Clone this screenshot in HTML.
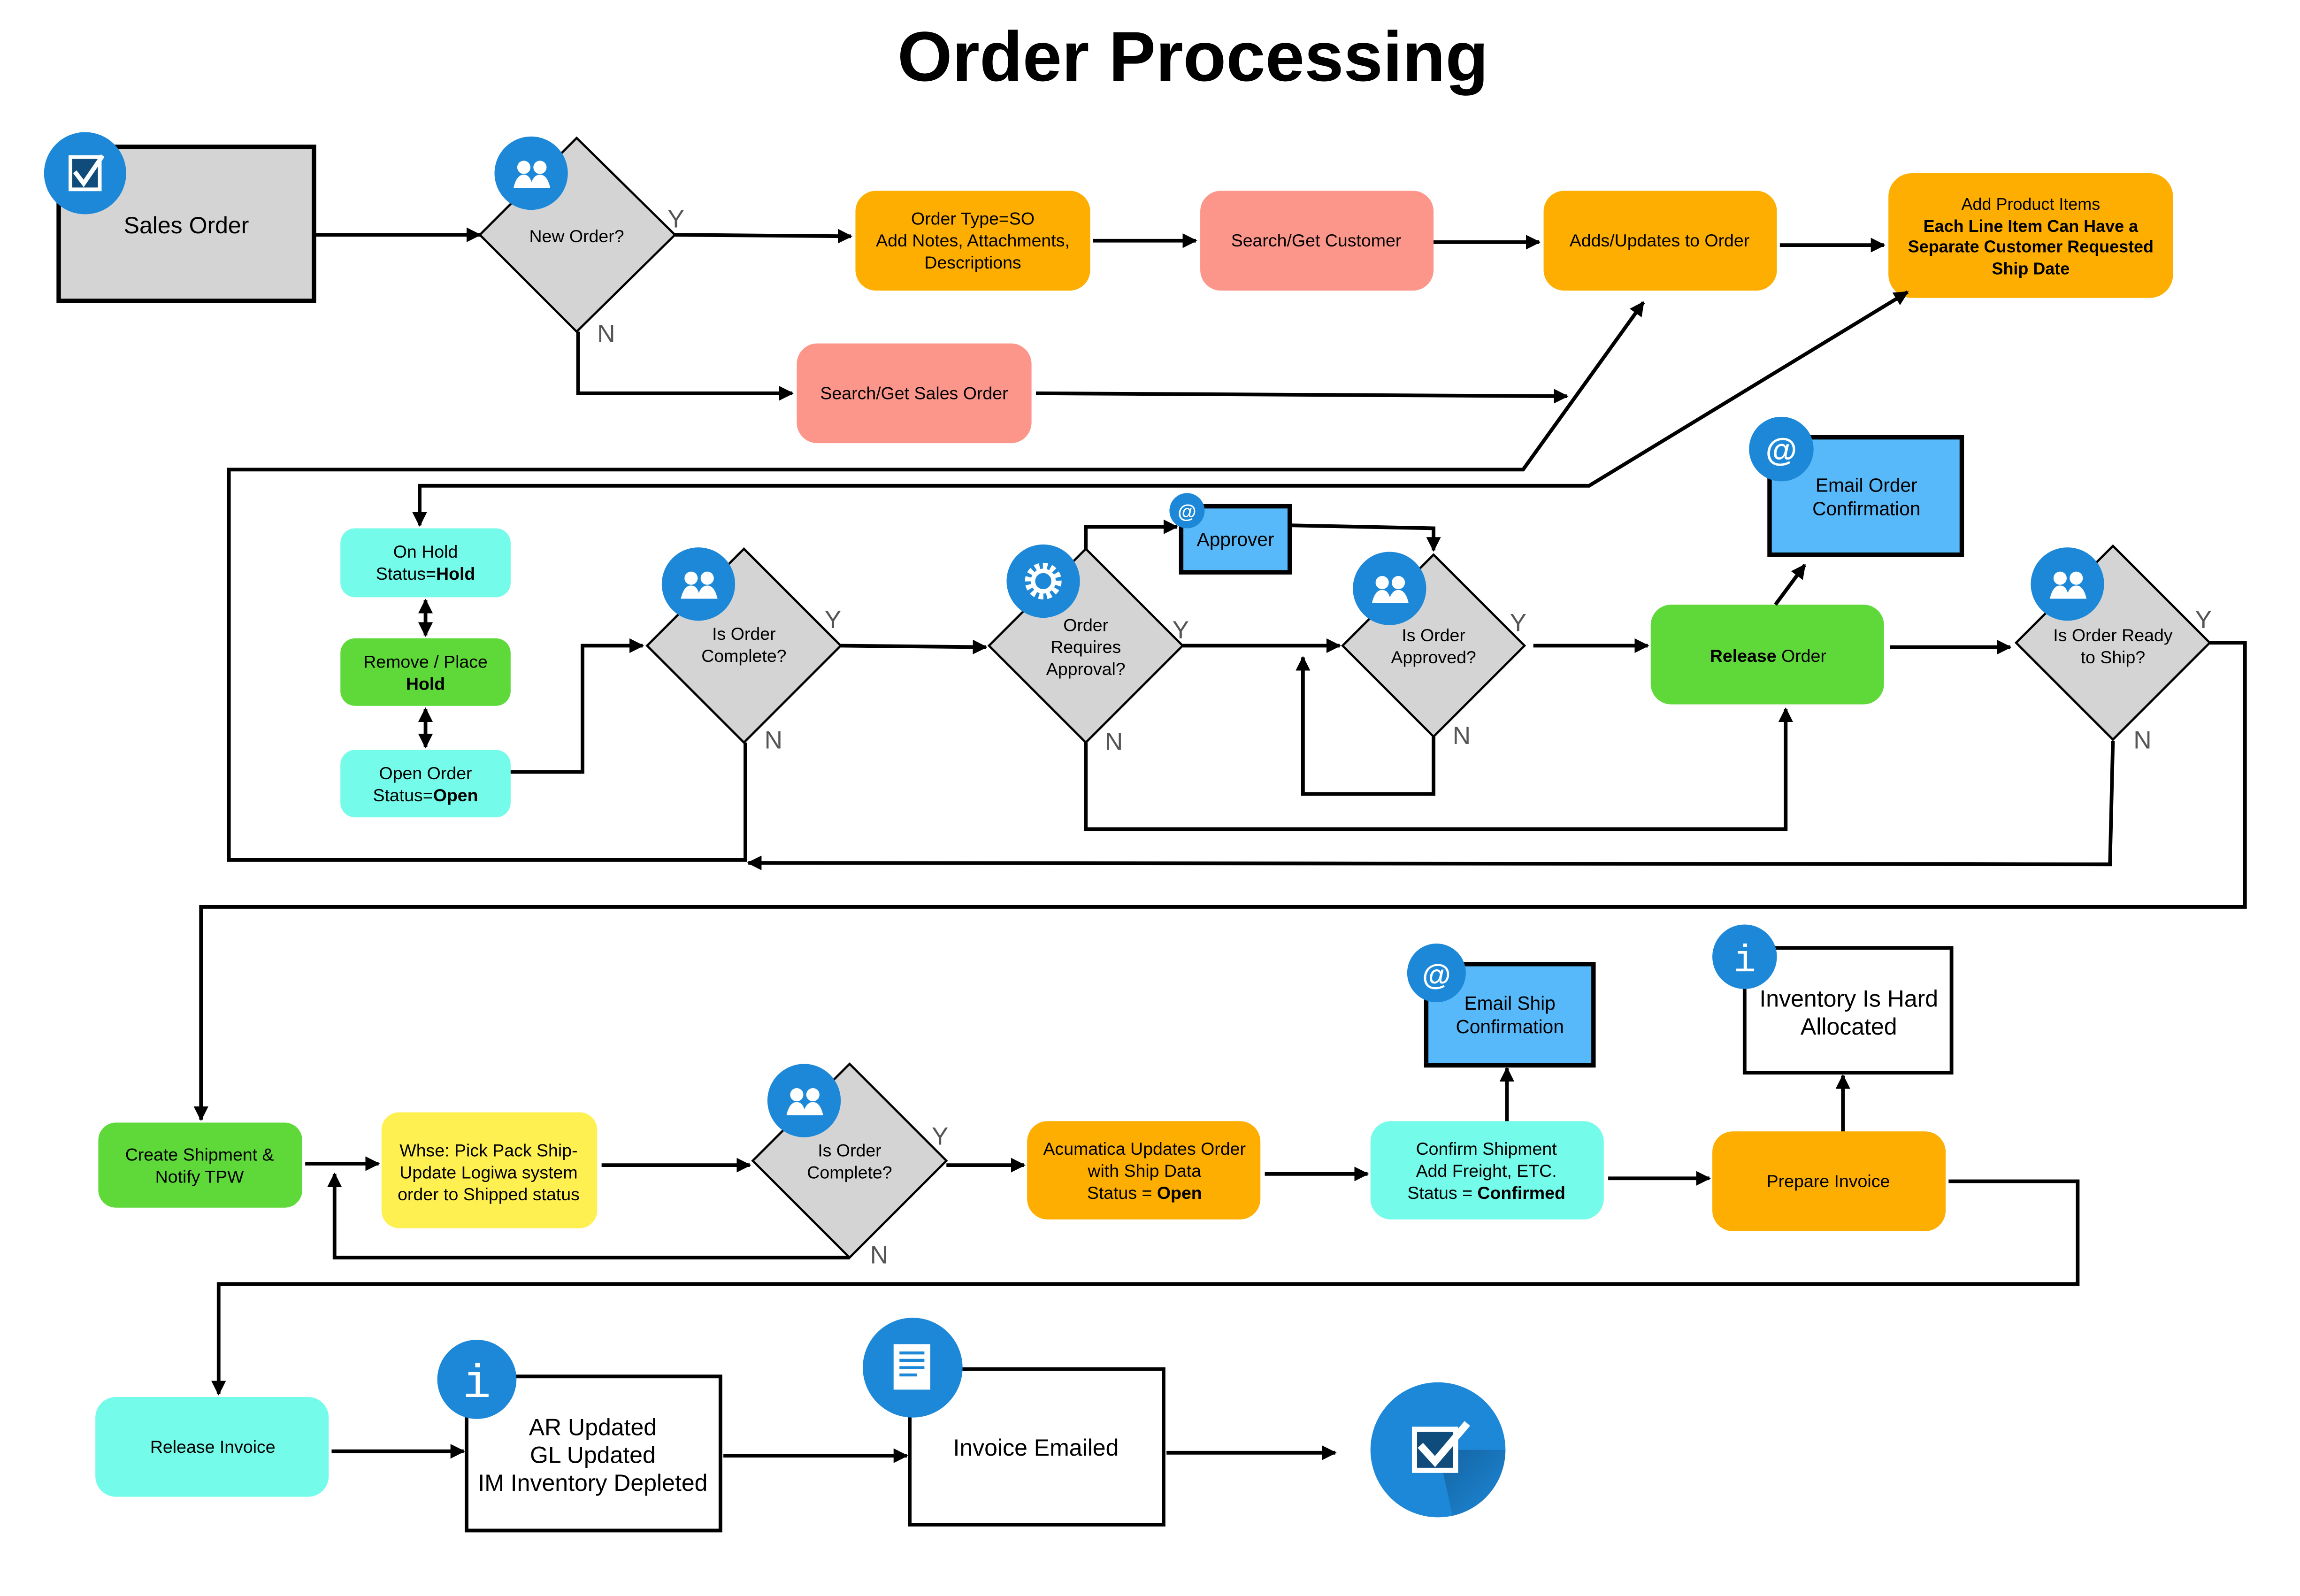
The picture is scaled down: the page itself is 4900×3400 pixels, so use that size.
<!DOCTYPE html>
<html><head><meta charset="utf-8"><style>
html,body{margin:0;padding:0;background:#fff;}
svg{display:block;}
text{font-family:"Liberation Sans",sans-serif;fill:#000;}
.g{fill:#555;font-size:17px;}
</style></head><body>
<svg width="4900" height="3400" viewBox="0 0 1567.5 1087.6" xmlns="http://www.w3.org/2000/svg">
<defs>
<marker id="a" markerWidth="10" markerHeight="10" refX="9" refY="5" orient="auto" markerUnits="userSpaceOnUse"><path d="M0,0 L10,5 L0,10 z" fill="#000"/></marker>
<marker id="s" markerWidth="10" markerHeight="10" refX="1" refY="5" orient="auto" markerUnits="userSpaceOnUse"><path d="M10,0 L0,5 L10,10 z" fill="#000"/></marker>
<linearGradient id="sh" x1="0" y1="0" x2="1" y2="1"><stop offset="0" stop-color="#0d4a7a"/><stop offset="1" stop-color="#1e88d8"/></linearGradient>
</defs>
<style>.l{fill:none;stroke:#000;stroke-width:2.5;}</style>

<text x="813" y="55" font-size="48" font-weight="bold" text-anchor="middle">Order Processing</text>

<rect x="40" y="100" width="174" height="105" fill="#d4d4d4" stroke="#000" stroke-width="3"/>
<text x="127" y="159" font-size="16" text-anchor="middle">Sales Order</text>
<circle cx="58" cy="118" r="28" fill="#1e88d8"/><rect x="48" y="107" width="20" height="22" fill="#0f4c7c" stroke="#fff" stroke-width="2.5"/><path d="M51,117 L57,125 L70,106" fill="none" stroke="#fff" stroke-width="3"/>
<path class="l" d="M214,160 L327,160" marker-end="url(#a)"/>
<polygon points="393,94 460,160 393,226 327,160" fill="#d4d4d4" stroke="#000" stroke-width="1.5"/>
<text x="393" y="165" font-size="12" text-anchor="middle">New Order?</text>
<circle cx="362" cy="118" r="25" fill="#1e88d8"/><circle cx="357" cy="114" r="4.5" fill="#fff"/><circle cx="368" cy="114" r="4.5" fill="#fff"/><path d="M350,128 q2,-9 7,-9 q5,0 6,9z M361,128 q2,-9 7,-9 q5,0 7,9z" fill="#fff"/>
<text x="455" y="155" class="g">Y</text><text x="407" y="233" class="g">N</text>
<path class="l" d="M460,160 L580,161" marker-end="url(#a)"/>
<rect x="583" y="130" width="160" height="68" rx="14" fill="#fdae00"/>
<text font-size="12" text-anchor="middle"><tspan x="663" y="153">Order Type=SO</tspan><tspan x="663" y="168">Add Notes, Attachments,</tspan><tspan x="663" y="183">Descriptions</tspan></text>
<path class="l" d="M745,164 L815,164" marker-end="url(#a)"/>
<rect x="818" y="130" width="159" height="68" rx="14" fill="#fd968a"/>
<text x="897" y="168" font-size="12" text-anchor="middle">Search/Get Customer</text>
<path class="l" d="M977,165 L1049,165" marker-end="url(#a)"/>
<rect x="1052" y="130" width="159" height="68" rx="14" fill="#fdae00"/>
<text x="1131" y="168" font-size="12" text-anchor="middle">Adds/Updates to Order</text>
<path class="l" d="M1213,167 L1284,167" marker-end="url(#a)"/>
<rect x="1287" y="118" width="194" height="85" rx="16" fill="#fdae00"/>
<text font-size="11.5" text-anchor="middle"><tspan x="1384" y="143">Add Product Items</tspan><tspan x="1384" y="158" font-weight="bold">Each Line Item Can Have a</tspan><tspan x="1384" y="172" font-weight="bold">Separate Customer Requested</tspan><tspan x="1384" y="187" font-weight="bold">Ship Date</tspan></text>
<path class="l" d="M394,226 L394,268 L540,268" marker-end="url(#a)"/>
<rect x="543" y="234" width="160" height="68" rx="14" fill="#fd968a"/>
<text x="623" y="272" font-size="12" text-anchor="middle">Search/Get Sales Order</text>
<path class="l" d="M706,268 L1068,270" marker-end="url(#a)"/>

<path class="l" d="M508,506 L508,586 L156,586 L156,320 L1038,320 L1120,206" marker-end="url(#a)"/>
<path class="l" d="M286,358 L286,331 L1083,331 L1300,199" marker-start="url(#s)" marker-end="url(#a)"/>
<path class="l" d="M1440,505 L1438,589 L510,588" marker-end="url(#a)"/>

<rect x="232" y="360" width="116" height="47" rx="10" fill="#74fbea"/>
<text font-size="12" text-anchor="middle"><tspan x="290" y="380">On Hold</tspan><tspan x="290" y="395">Status=<tspan font-weight="bold">Hold</tspan></tspan></text>
<path class="l" d="M290,409 L290,433" marker-start="url(#s)" marker-end="url(#a)"/>
<rect x="232" y="435" width="116" height="46" rx="10" fill="#5fd93a"/>
<text font-size="12" text-anchor="middle"><tspan x="290" y="455">Remove / Place</tspan><tspan x="290" y="470" font-weight="bold">Hold</tspan></text>
<path class="l" d="M290,483 L290,509" marker-start="url(#s)" marker-end="url(#a)"/>
<rect x="232" y="511" width="116" height="46" rx="10" fill="#74fbea"/>
<text font-size="12" text-anchor="middle"><tspan x="290" y="531">Open Order</tspan><tspan x="290" y="546">Status=<tspan font-weight="bold">Open</tspan></tspan></text>
<path class="l" d="M348,526 L397,526 L397,440 L438,440" marker-end="url(#a)"/>

<polygon points="507,374 573,440 507,506 441,440" fill="#d4d4d4" stroke="#000" stroke-width="1.5"/>
<text font-size="12" text-anchor="middle"><tspan x="507" y="436">Is Order</tspan><tspan x="507" y="451">Complete?</tspan></text>
<circle cx="476" cy="398" r="25" fill="#1e88d8"/><circle cx="471" cy="394" r="4.5" fill="#fff"/><circle cx="482" cy="394" r="4.5" fill="#fff"/><path d="M464,408 q2,-9 7,-9 q5,0 6,9z M475,408 q2,-9 7,-9 q5,0 7,9z" fill="#fff"/>
<text x="562" y="428" class="g">Y</text><text x="521" y="510" class="g">N</text>
<path class="l" d="M573,440 L672,441" marker-end="url(#a)"/>

<polygon points="740,374 806,440 740,506 674,440" fill="#d4d4d4" stroke="#000" stroke-width="1.5"/>
<text font-size="12" text-anchor="middle"><tspan x="740" y="430">Order</tspan><tspan x="740" y="445">Requires</tspan><tspan x="740" y="460">Approval?</tspan></text>
<circle cx="711" cy="396" r="25" fill="#1e88d8"/><circle cx="711" cy="396" r="10" fill="none" stroke="#fff" stroke-width="5" stroke-dasharray="3 2.2"/><circle cx="711" cy="396" r="7" fill="none" stroke="#fff" stroke-width="3"/>
<text x="799" y="435" class="g">Y</text><text x="753" y="511" class="g">N</text>
<path class="l" d="M740,374 L740,359 L802,359" marker-end="url(#a)"/>
<rect x="805" y="345" width="74" height="45" fill="#57b9f9" stroke="#000" stroke-width="3"/>
<text x="842" y="372" font-size="13" text-anchor="middle">Approver</text>
<circle cx="809" cy="348" r="12" fill="#1e88d8"/><text x="809" y="353" font-size="13" font-weight="bold" text-anchor="middle" style="fill:#fff">@</text>
<path class="l" d="M880,358 L977,360 L977,375" marker-end="url(#a)"/>
<path class="l" d="M806,440 L913,440" marker-end="url(#a)"/>
<path class="l" d="M740,506 L740,565 L1217,565 L1217,483" marker-end="url(#a)"/>

<polygon points="977,378 1039,440 977,502 915,440" fill="#d4d4d4" stroke="#000" stroke-width="1.5"/>
<text font-size="12" text-anchor="middle"><tspan x="977" y="437">Is Order</tspan><tspan x="977" y="452">Approved?</tspan></text>
<circle cx="947" cy="401" r="25" fill="#1e88d8"/><circle cx="942" cy="397" r="4.5" fill="#fff"/><circle cx="953" cy="397" r="4.5" fill="#fff"/><path d="M935,411 q2,-9 7,-9 q5,0 6,9z M946,411 q2,-9 7,-9 q5,0 7,9z" fill="#fff"/>
<text x="1029" y="430" class="g">Y</text><text x="990" y="507" class="g">N</text>
<path class="l" d="M977,502 L977,541 L888,541 L888,448" marker-end="url(#a)"/>
<path class="l" d="M1045,440 L1123,440" marker-end="url(#a)"/>

<rect x="1125" y="412" width="159" height="68" rx="14" fill="#5fd93a"/>
<text x="1205" y="451" font-size="12" text-anchor="middle"><tspan font-weight="bold">Release</tspan> Order</text>
<path class="l" d="M1210,412 L1230,385" marker-end="url(#a)"/>
<rect x="1206" y="298" width="131" height="80" fill="#57b9f9" stroke="#000" stroke-width="3"/>
<text font-size="13" text-anchor="middle"><tspan x="1272" y="335">Email Order</tspan><tspan x="1272" y="351">Confirmation</tspan></text>
<circle cx="1214" cy="306" r="22" fill="#1e88d8"/><text x="1214" y="314" font-size="22" font-weight="bold" text-anchor="middle" style="fill:#fff">@</text>
<path class="l" d="M1288,441 L1370,441" marker-end="url(#a)"/>

<polygon points="1440,372 1506,438 1440,504 1374,438" fill="#d4d4d4" stroke="#000" stroke-width="1.5"/>
<text font-size="12" text-anchor="middle"><tspan x="1440" y="437">Is Order Ready</tspan><tspan x="1440" y="452">to Ship?</tspan></text>
<circle cx="1409" cy="398" r="25" fill="#1e88d8"/><circle cx="1404" cy="394" r="4.5" fill="#fff"/><circle cx="1415" cy="394" r="4.5" fill="#fff"/><path d="M1397,408 q2,-9 7,-9 q5,0 6,9z M1408,408 q2,-9 7,-9 q5,0 7,9z" fill="#fff"/>
<text x="1496" y="428" class="g">Y</text><text x="1454" y="510" class="g">N</text>
<path class="l" d="M1506,438 L1530,438 L1530,618 L137,618 L137,763" marker-end="url(#a)"/>

<rect x="67" y="765" width="139" height="58" rx="12" fill="#5fd93a"/>
<text font-size="12" text-anchor="middle"><tspan x="136" y="791">Create Shipment &amp;</tspan><tspan x="136" y="806">Notify TPW</tspan></text>
<path class="l" d="M208,793 L258,793" marker-end="url(#a)"/>
<rect x="260" y="758" width="147" height="79" rx="12" fill="#fef050"/>
<text font-size="12" text-anchor="middle"><tspan x="333" y="788">Whse: Pick Pack Ship-</tspan><tspan x="333" y="803">Update Logiwa system</tspan><tspan x="333" y="818">order to Shipped status</tspan></text>
<path class="l" d="M410,794 L511,794" marker-end="url(#a)"/>
<polygon points="579,725 645,791 579,857 513,791" fill="#d4d4d4" stroke="#000" stroke-width="1.5"/>
<text font-size="12" text-anchor="middle"><tspan x="579" y="788">Is Order</tspan><tspan x="579" y="803">Complete?</tspan></text>
<circle cx="548" cy="750" r="25" fill="#1e88d8"/><circle cx="543" cy="746" r="4.5" fill="#fff"/><circle cx="554" cy="746" r="4.5" fill="#fff"/><path d="M536,760 q2,-9 7,-9 q5,0 6,9z M547,760 q2,-9 7,-9 q5,0 7,9z" fill="#fff"/>
<text x="635" y="780" class="g">Y</text><text x="593" y="861" class="g">N</text>
<path class="l" d="M579,857 L228,857 L228,800" marker-end="url(#a)"/>
<path class="l" d="M645,794 L698,794" marker-end="url(#a)"/>
<rect x="700" y="764" width="159" height="67" rx="14" fill="#fdae00"/>
<text font-size="12" text-anchor="middle"><tspan x="780" y="787">Acumatica Updates Order</tspan><tspan x="780" y="802">with Ship Data</tspan><tspan x="780" y="817">Status = <tspan font-weight="bold">Open</tspan></tspan></text>
<path class="l" d="M862,800 L932,800" marker-end="url(#a)"/>
<rect x="934" y="764" width="159" height="67" rx="14" fill="#74fbea"/>
<text font-size="12" text-anchor="middle"><tspan x="1013" y="787">Confirm Shipment</tspan><tspan x="1013" y="802">Add Freight, ETC.</tspan><tspan x="1013" y="817">Status = <tspan font-weight="bold">Confirmed</tspan></tspan></text>
<path class="l" d="M1027,764 L1027,728" marker-end="url(#a)"/>
<rect x="972" y="657" width="114" height="69" fill="#57b9f9" stroke="#000" stroke-width="3"/>
<text font-size="13" text-anchor="middle"><tspan x="1029" y="688">Email Ship</tspan><tspan x="1029" y="704">Confirmation</tspan></text>
<circle cx="979" cy="663" r="20" fill="#1e88d8"/><text x="979" y="671" font-size="20" font-weight="bold" text-anchor="middle" style="fill:#fff">@</text>
<path class="l" d="M1096,803 L1165,803" marker-end="url(#a)"/>
<rect x="1167" y="771" width="159" height="68" rx="14" fill="#fdae00"/>
<text x="1246" y="809" font-size="12" text-anchor="middle">Prepare Invoice</text>
<path class="l" d="M1256,771 L1256,733" marker-end="url(#a)"/>
<rect x="1189" y="646" width="141" height="85" fill="#fff" stroke="#000" stroke-width="2.5"/>
<text font-size="16" text-anchor="middle"><tspan x="1260" y="686">Inventory Is Hard</tspan><tspan x="1260" y="705">Allocated</tspan></text>
<circle cx="1189" cy="652" r="22" fill="#1e88d8"/><text x="1189" y="662" font-size="26" text-anchor="middle" style="fill:#fff;font-family:'Liberation Mono',monospace">i</text>
<path class="l" d="M1328,805 L1416,805 L1416,875 L149,875 L149,950" marker-end="url(#a)"/>

<rect x="65" y="952" width="159" height="68" rx="14" fill="#74fbea"/>
<text x="145" y="990" font-size="12" text-anchor="middle">Release Invoice</text>
<path class="l" d="M226,989 L316,989" marker-end="url(#a)"/>
<rect x="318" y="938" width="173" height="105" fill="#fff" stroke="#000" stroke-width="2.5"/>
<text font-size="16" text-anchor="middle"><tspan x="404" y="978">AR Updated</tspan><tspan x="404" y="997">GL Updated</tspan><tspan x="404" y="1016">IM Inventory Depleted</tspan></text>
<circle cx="325" cy="940" r="27" fill="#1e88d8"/><text x="325" y="952" font-size="32" text-anchor="middle" style="fill:#fff;font-family:'Liberation Mono',monospace">i</text>
<path class="l" d="M493,992 L618,992" marker-end="url(#a)"/>
<rect x="620" y="933" width="173" height="106" fill="#fff" stroke="#000" stroke-width="2.5"/>
<text x="706" y="992" font-size="16" text-anchor="middle">Invoice Emailed</text>
<circle cx="622" cy="932" r="34" fill="#1e88d8"/><rect x="609" y="916" width="25" height="31" fill="#fff"/><path d="M613,922 h17 M613,927 h17 M613,932 h17 M613,937 h12" stroke="#1e88d8" stroke-width="2"/>
<path class="l" d="M795,990 L910,990" marker-end="url(#a)"/>
<circle cx="980" cy="988" r="46" fill="#1e88d8"/><path d="M980,988 L1026,988 A46,46 0 0 1 990,1033 z" fill="url(#sh)" opacity="0.6"/>
<rect x="964" y="974" width="28" height="28" fill="#0f4c7c" stroke="#fff" stroke-width="3.5"/><path d="M968,985 L978,996 L1000,970" fill="none" stroke="#fff" stroke-width="5"/>
</svg>
</body></html>
